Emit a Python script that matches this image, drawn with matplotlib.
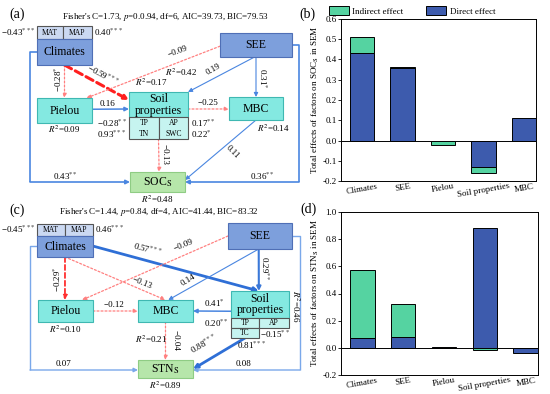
import matplotlib.pyplot as plt
from matplotlib.patches import Rectangle
import numpy as np

plt.rcParams['font.family'] = ['Liberation Serif', 'DejaVu Serif']
plt.rcParams['mathtext.fontset'] = 'stix'

# ---- bar data (total effects) ----
categories = ["Climates", "SEE", "Pielou", "Soil properties", "MBC"]
soc_direct = [0.43, 0.36, 0.0, -0.13, 0.11]
soc_indirect = [0.08, 0.005, -0.02, -0.03, 0.0]
stn_direct = [0.07, 0.08, 0.003, 0.88, -0.04]
stn_indirect = [0.50, 0.245, 0.0, -0.015, 0.0]

# ---- SEM fit statistics ----
fisher_a = "Fisher's C=1.73, $p$=0.0.94, df=6, AIC=39.73, BIC=79.53"
fisher_c = "Fisher's C=1.44, $p$=0.84, df=4, AIC=41.44, BIC=83.32"

C_IND = '#55d3a1'
C_DIR = '#3d5bad'
BLUE = '#4a86e0'
RED_L = '#ff8080'

# dash patterns are scaled by linewidth in matplotlib
STYLES = {
    'pos_thin': dict(color=BLUE, lw=0.8, ls='-'),
    'pos': dict(color=BLUE, lw=1.1, ls='-'),
    'pos_mid': dict(color='#3a78d8', lw=1.5, ls='-'),
    'pos_thick': dict(color='#2f6fd6', lw=2.0, ls='-'),
    'neg_dot': dict(color=RED_L, lw=0.9, ls=(0, (1.6, 1.6))),
    'neg_dash': dict(color='#ff3030', lw=1.3, ls=(0, (2.8, 1.6))),
    'neg_thick': dict(color='#ff1f1f', lw=2.2, ls=(0, (2.6, 1.4))),
}

BLUE_BOX = dict(fc='#7d9fdc', ec='#4f6fb6')
HEAD_BOX = dict(fc='#cbd9f2', ec='#555555')
CYAN_BOX = dict(fc='#84e9e1', ec='#3fb8b2')
SUB_BOX = dict(fc='#c6f4f0', ec='#555555')
GREEN_BOX = dict(fc='#b6e6aa', ec='#8fcc84')

fig = plt.figure(figsize=(5.5, 3.94), dpi=100)
ax = fig.add_axes([0, 0, 1, 1])
ax.set_xlim(0, 550)
ax.set_ylim(394, 0)
ax.axis('off')


def box(b, st, lw=0.8, z=3):
    x0, y0, x1, y1 = b
    ax.add_patch(Rectangle((x0, y0), x1 - x0, y1 - y0, lw=lw, zorder=z, **st))


def anchor(b, fx, fy):
    x0, y0, x1, y1 = b
    return (x0 + fx * (x1 - x0), y0 + fy * (y1 - y0))


def arrow(p0, p1, style):
    st = STYLES[style]
    ax.annotate('', xy=p1, xytext=p0, zorder=2,
                arrowprops=dict(arrowstyle='-|>', color=st['color'], lw=st['lw'],
                                linestyle=st['ls'], mutation_scale=6,
                                shrinkA=0, shrinkB=0))


def loop(points, color, lw):
    xs = [p[0] for p in points[:-1]]
    ys = [p[1] for p in points[:-1]]
    ax.plot(xs, ys, color=color, lw=lw, zorder=2, solid_capstyle='butt')
    ax.annotate('', xy=points[-1], xytext=points[-2], zorder=2,
                arrowprops=dict(arrowstyle='-|>', color=color, lw=lw,
                                mutation_scale=6, shrinkA=0, shrinkB=0))


def t(x, y, s, fs=6.5, ha='center', rot=0, va='center'):
    ax.text(x, y, s, fontsize=fs, ha=ha, va=va, rotation=rot,
            rotation_mode='anchor', zorder=5)


# ================= panel (a) =================
A = dict(clim=(37, 39, 92, 65), see=(220, 33, 292, 57), pie=(37, 98, 92, 123),
         soil=(129, 92, 188, 117), sub=(129, 117, 188, 139),
         mbc=(229, 97, 283, 120), soc=(130, 172, 185, 192))

box((37, 26, 63, 39), HEAD_BOX)
box((63, 26, 92, 39), HEAD_BOX)
box(A['clim'], BLUE_BOX)
box(A['see'], BLUE_BOX)
box(A['pie'], CYAN_BOX)
box(A['soil'], CYAN_BOX)
box((129, 117, 159, 139), SUB_BOX)
box((159, 117, 188, 139), SUB_BOX)
box(A['mbc'], CYAN_BOX)
box(A['soc'], GREEN_BOX)

paths_a = [
    (('clim', .5, 1), ('pie', .5, 0), 'neg_dot'),
    (('clim', .5, 1), ('soil', 0, .32), 'neg_thick'),
    (('see', 0, .55), ('pie', .9, 0), 'neg_dot'),
    (('see', .48, 1), ('soil', 1, 0), 'pos_thin'),
    (('see', .5, 1), ('mbc', .5, 0), 'pos_thin'),
    (('pie', 1, .45), ('soil', 0, .68), 'pos'),
    (('soil', 1, .68), ('mbc', 0, .52), 'neg_dot'),
    (('sub', .5, 1), ('soc', .53, 0), 'neg_dot'),
    (('mbc', .5, 1), ('soc', 1, .4), 'pos_thin'),
]
for (s, sx, sy), (d, dx, dy), st in paths_a:
    arrow(anchor(A[s], sx, sy), anchor(A[d], dx, dy), st)

loop([(37, 52), (30, 52), (30, 182), (130, 182)], BLUE, 1.2)
loop([(292, 45), (299, 45), (299, 182), (185, 182)], BLUE, 1.2)

t(17, 14, '(a)', fs=10)
t(165, 17, fisher_a, fs=6.5)
t(50, 32.5, 'MAT', fs=5.5)
t(77.5, 32.5, 'MAP', fs=5.5)
t(36, 32, '−0.43$^{***}$', ha='right')
t(94, 32, '0.40$^{***}$', ha='left')
t(64.5, 52, 'Climates', fs=8.5)
t(256, 45, 'SEE', fs=8.5)
t(64.5, 110.5, 'Pielou', fs=8.5)
ax.text(158.5, 104.5, 'Soil\nproperties', fontsize=8.5, ha='center', va='center',
        linespacing=1.0, zorder=5)
t(256, 108.5, 'MBC', fs=8.5)
t(157.5, 182, 'SOC$_\\mathrm{S}$', fs=8.5)
t(64, 129, '$R^2$=0.09')
t(273, 128, '$R^2$=0.14')
t(157, 199, '$R^2$=0.48')
t(181, 72, '$R^2$=0.42')
t(151, 82, '$R^2$=0.17')
t(144, 122.5, 'TP', fs=5.5)
t(144, 133.5, 'TN', fs=5.5)
t(173.5, 122.5, 'AP', fs=5.5)
t(173.5, 133.5, 'SWC', fs=5.5)
t(127, 123, '−0.28$^{**}$', ha='right')
t(127, 134, '0.93$^{***}$', ha='right')
t(191, 123, '0.17$^{**}$', ha='left')
t(191, 134, '0.22$^{*}$', ha='left')
t(65, 176, '0.43$^{**}$')
t(262, 176, '0.36$^{**}$')
t(58, 79, '−0.28$^{*}$', rot=90)
t(103, 75, '−0.59$^{***}$', rot=-28)
t(178, 52, '−0.09', rot=20)
t(213, 69, '0.19', rot=30)
t(263, 78, '0.31$^{*}$', rot=-90)
t(108, 104, '0.16')
t(208, 103, '−0.25')
t(165, 154, '−0.13', rot=-90)
t(232, 152, '0.11', rot=-45)

# ================= panel (c) =================
C = dict(clim=(37, 236, 93, 257), see=(228, 223, 292, 249), pie=(38, 300, 93, 322),
         mbc=(138, 300, 193, 322), soil=(231, 291, 289, 318), tc=(231, 328, 259, 338),
         stn=(138, 360, 193, 378))

box((37, 224, 65, 236), HEAD_BOX)
box((65, 224, 93, 236), HEAD_BOX)
box(C['clim'], BLUE_BOX)
box(C['see'], BLUE_BOX)
box(C['pie'], CYAN_BOX)
box(C['mbc'], CYAN_BOX)
box(C['soil'], CYAN_BOX)
box((231, 318, 259, 328), SUB_BOX)
box((259, 318, 289, 328), SUB_BOX)
box(C['tc'], SUB_BOX)
box(C['stn'], GREEN_BOX)

paths_c = [
    (('clim', 1, .48), ('soil', .48, 0), 'pos_thick'),
    (('clim', .5, 1), ('pie', .49, 0), 'neg_dash'),
    (('clim', .5, 1), ('mbc', .5, 0), 'neg_dot'),
    (('see', 0, .5), ('pie', .8, 0), 'neg_dot'),
    (('see', .48, 1), ('mbc', .55, 0), 'pos_thin'),
    (('see', .48, 1), ('soil', .48, 0), 'pos_mid'),
    (('pie', 1, .5), ('mbc', 0, .5), 'neg_dot'),
    (('soil', 0, .75), ('mbc', 1, .5), 'pos'),
    (('mbc', .5, 1), ('stn', .5, 0), 'neg_dot'),
    (('tc', .5, 1), ('stn', 1, .5), 'pos_thick'),
]
for (s, sx, sy), (d, dx, dy), st in paths_c:
    arrow(anchor(C[s], sx, sy), anchor(C[d], dx, dy), st)

loop([(37, 246), (30, 246), (30, 370), (138, 370)], '#7aa8ea', 1.0)
loop([(292, 236), (300, 236), (300, 370), (193, 370)], '#7aa8ea', 1.0)

t(17, 210, '(c)', fs=10)
t(159, 212, fisher_c, fs=6.5)
t(51, 230, 'MAT', fs=5.5)
t(79, 230, 'MAP', fs=5.5)
t(36, 229, '−0.45$^{***}$', ha='right')
t(95, 229, '0.46$^{***}$', ha='left')
t(65, 246.5, 'Climates', fs=8.5)
t(260, 236, 'SEE', fs=8.5)
t(65.5, 311, 'Pielou', fs=8.5)
t(165.5, 311, 'MBC', fs=8.5)
ax.text(260, 304.5, 'Soil\nproperties', fontsize=8.5, ha='center', va='center',
        linespacing=1.0, zorder=5)
t(165.5, 369, 'STN$_\\mathrm{S}$', fs=8.5)
t(245, 323, 'TP', fs=5.5)
t(274, 323, 'AP', fs=5.5)
t(245, 333, 'TC', fs=5.5)
t(65, 329, '$R^2$=0.10')
t(165, 385, '$R^2$=0.89')
t(151, 339, '$R^2$=0.21')
t(296, 306, '$R^2$=0.46', rot=-90)
t(229, 323, '0.20$^{**}$', ha='right')
t(275, 334, '−0.15$^{**}$')
t(252, 345, '0.81$^{***}$')
t(64, 364, '0.07')
t(243, 364, '0.08')
t(57, 279, '−0.29$^{*}$', rot=90)
t(148, 249, '0.57$^{***}$', rot=-15)
t(183, 245, '−0.09', rot=22)
t(142, 283, '−0.13', rot=-22)
t(188, 280, '0.14', rot=32)
t(265, 268, '0.29$^{**}$', rot=-90)
t(114, 305, '−0.12')
t(214, 303, '0.41$^{*}$')
t(176, 340, '−0.04', rot=-90)
t(204, 344, '0.88$^{***}$', rot=30)


# ================= bar panels =================
def stacked(bax, direct, indirect):
    x = np.arange(len(categories))
    d = np.array(direct)
    ind = np.array(indirect)
    base = np.where(np.sign(ind) == np.sign(d), d, 0.0)
    bax.bar(x, d, width=0.6, color=C_DIR, edgecolor='black', lw=0.7, label='Direct effect', zorder=2)
    bax.bar(x, ind, width=0.6, bottom=base, color=C_IND, edgecolor='black', lw=0.7,
            label='Indirect effect', zorder=2)
    bax.axhline(0, color='black', lw=0.7, zorder=1)
    bax.set_xlim(-0.52, 4.3)
    bax.set_xticks(x)
    bax.set_xticklabels(categories, rotation=10, fontsize=6.5)
    bax.tick_params(axis='y', labelsize=6.5, length=2, width=0.6, pad=1)
    bax.tick_params(axis='x', length=0, pad=1)
    for sp in bax.spines.values():
        sp.set_linewidth(0.7)


axb = fig.add_axes([341 / 550, 1 - 181 / 394, 195 / 550, 162 / 394])
stacked(axb, soc_direct, soc_indirect)
axb.set_ylim(-0.2, 0.6)
axb.set_yticks(np.arange(-0.2, 0.61, 0.1))
axb.set_yticklabels([f'{v:.1f}' for v in np.arange(-0.2, 0.61, 0.1)])
axb.set_ylabel('Total effects of factors on SOC$_\\mathrm{S}$ in SEM', fontsize=6.5, labelpad=1)
h, l = axb.get_legend_handles_labels()
fig.legend(h[::-1], l[::-1], loc='center', bbox_to_anchor=(412 / 550, 1 - 11 / 394), ncol=2,
           frameon=False, fontsize=6.5, handlelength=2.2, handleheight=1.0,
           columnspacing=2.5, handletextpad=0.4)
fig.text(307 / 550, 1 - 14 / 394, '(b)', fontsize=10, ha='center', va='center')

axd = fig.add_axes([341 / 550, 1 - 375 / 394, 197 / 550, 163 / 394])
stacked(axd, stn_direct, stn_indirect)
axd.set_ylim(-0.2, 1.0)
axd.set_yticks(np.arange(-0.2, 1.01, 0.2))
axd.set_yticklabels([f'{v:.1f}' for v in np.arange(-0.2, 1.01, 0.2)])
axd.set_ylabel('Total effects of factors on STN$_\\mathrm{S}$ in SEM', fontsize=6.5, labelpad=1)
fig.text(308 / 550, 1 - 209 / 394, '(d)', fontsize=10, ha='center', va='center')

fig.savefig('out.png', dpi=100)
